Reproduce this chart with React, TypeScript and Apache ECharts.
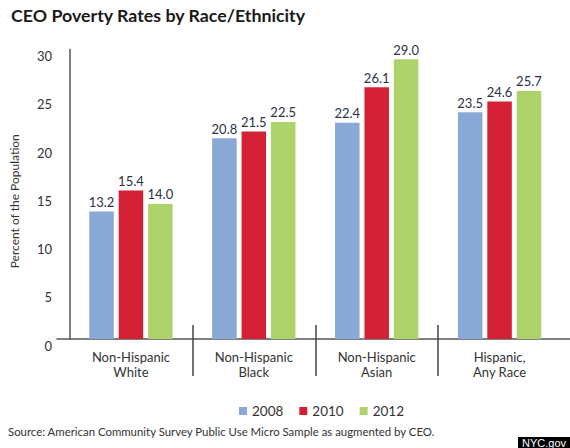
import React, { useEffect, useRef } from "react";
import * as echarts from "echarts";

const categories = ["Non-Hispanic\nWhite", "Non-Hispanic\nBlack", "Non-Hispanic\nAsian", "Hispanic,\nAny Race"];
const years = ["2008", "2010", "2012"];
const values2008 = [13.2, 20.8, 22.4, 23.5];
const values2010 = [15.4, 21.5, 26.1, 24.6];
const values2012 = [14.0, 22.5, 29.0, 25.7];
const yTicks = { min: 0, max: 30, interval: 5 };
const separators = [1, 2, 3];

const colors = ["#8aa8d6", "#d42034", "#afd36b"];
const FONT = "Lato, 'Open Sans', sans-serif";

export default function App() {
  const ref = useRef<HTMLDivElement>(null);
  useEffect(() => {
    if (!ref.current) return;
    const chart = echarts.init(ref.current, null, { renderer: "svg" });
    const seriesData = [values2008, values2010, values2012];
    const gridTop = 49.5;
    const gridBottom = 109;
    chart.setOption({
      animation: false,
      backgroundColor: "#ffffff",
      textStyle: { fontFamily: FONT },
      title: {
        text: "CEO Poverty Rates by Race/Ethnicity",
        left: 6,
        top: 1,
        textStyle: { fontSize: 17.8, fontWeight: "bold", color: "#1a1a1a", fontFamily: FONT },
      },
      legend: {
        data: years,
        left: 234,
        top: 399,
        icon: "rect",
        itemWidth: 8,
        itemHeight: 8,
        itemGap: 16,
        textStyle: { fontSize: 13.5, color: "#333", fontFamily: FONT },
      },
      grid: [
        { left: 66.5, right: 9, top: gridTop, bottom: gridBottom },
        { left: 57, right: 0, top: gridTop, bottom: gridBottom },
      ],
      xAxis: [
        {
          type: "category",
          gridIndex: 0,
          data: categories,
          axisLine: { show: false },
          axisTick: { show: false },
          axisLabel: { fontSize: 13, lineHeight: 15, color: "#333", margin: 10, fontFamily: FONT },
        },
        {
          type: "value",
          gridIndex: 0,
          min: 0,
          max: 4,
          position: "bottom",
          offset: -14,
          axisLine: { show: false },
          axisLabel: { show: false },
          splitLine: { show: false },
          axisTick: {
            show: true,
            customValues: separators,
            length: 51,
            lineStyle: { color: "#444", width: 1.5 },
          },
        },
        {
          type: "value",
          gridIndex: 1,
          min: 0,
          max: 1,
          axisLine: { show: true, lineStyle: { color: "#555", width: 1.5 } },
          axisTick: { show: false },
          axisLabel: { show: false },
          splitLine: { show: false },
        },
      ],
      yAxis: [
        {
          type: "value",
          gridIndex: 0,
          min: yTicks.min,
          max: yTicks.max,
          interval: yTicks.interval,
          offset: 9.5,
          name: "Percent of the Population",
          nameLocation: "middle",
          nameGap: 40,
          nameTextStyle: { fontSize: 12, color: "#333", fontFamily: FONT, padding: [0, 14, 0, 0] },
          axisLine: { show: true, lineStyle: { color: "#555", width: 1.5 } },
          axisTick: { show: false },
          splitLine: { show: false },
          axisLabel: { fontSize: 13, color: "#333", margin: 8, verticalAlign: "top", fontFamily: FONT },
        },
        { type: "value", gridIndex: 1, show: false, min: 0, max: 1 },
      ],
      series: years.map((y, i) => ({
        name: y,
        type: "bar",
        xAxisIndex: 0,
        yAxisIndex: 0,
        data: seriesData[i],
        barWidth: 24.5,
        barGap: "20%",
        itemStyle: { color: colors[i] },
        label: {
          show: true,
          position: "top",
          distance: 3,
          fontSize: 13,
          color: "#2b3245",
          fontFamily: FONT,
          formatter: (p: any) => Number(p.value).toFixed(1),
        },
      })),
      graphic: [
        {
          type: "text",
          left: 8,
          top: 426,
          style: {
            text: "Source: American Community Survey Public Use Micro Sample as augmented by CEO.",
            fontSize: 11.4,
            fill: "#333",
            fontFamily: FONT,
          },
        },
        {
          type: "rect",
          left: 518,
          top: 437,
          shape: { width: 52, height: 11 },
          style: { fill: "#000" },
        },
        {
          type: "text",
          left: 522,
          top: 437,
          style: {
            text: "NYC.gov",
            fontSize: 11,
            fill: "#fff",
            fontFamily: "'Liberation Sans', Arial, sans-serif",
          },
        },
      ],
    });
    return () => chart.dispose();
  }, []);
  return (
    <div
      ref={ref}
      style={{ position: "fixed", left: 0, top: 0, width: 570, height: 448, background: "#fff" }}
    />
  );
}
